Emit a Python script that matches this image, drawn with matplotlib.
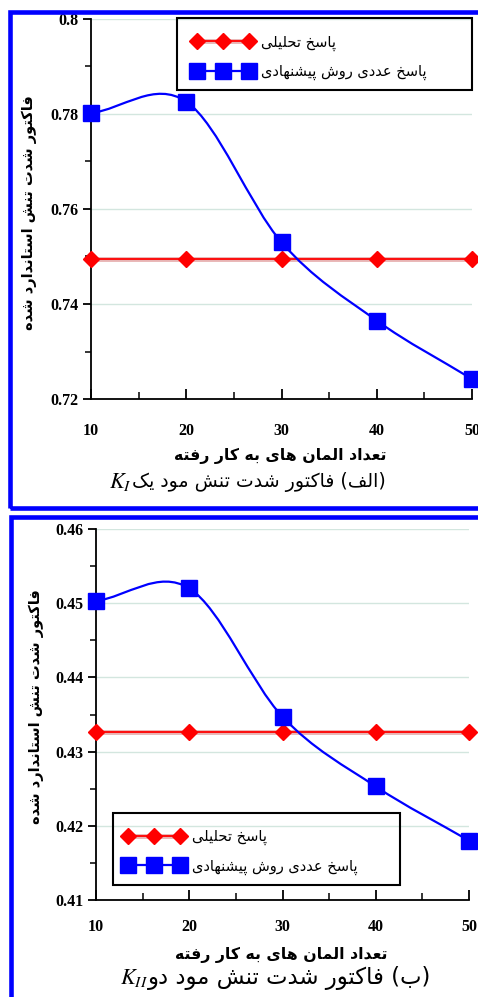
import matplotlib
matplotlib.use("Agg")
import matplotlib.pyplot as plt
import numpy as np
from matplotlib.path import Path
from matplotlib.patches import PathPatch, Rectangle
from matplotlib.lines import Line2D
from matplotlib.legend_handler import HandlerTuple

# data
elements = [10, 20, 30, 40, 50]
k1_exact = [0.7495, 0.7495, 0.7495, 0.7495, 0.7495]
k1_numeric = [0.7802, 0.7826, 0.7530, 0.7365, 0.7242]
k2_exact = [0.4327, 0.4327, 0.4327, 0.4327, 0.4327]
k2_numeric = [0.4503, 0.4520, 0.4347, 0.4253, 0.4180]

label_exact = "پاسخ تحلیلی"
label_numeric = "پاسخ عددی روش پیشنهادی"
ylabel_txt = "فاکتور شدت تنش استاندارد شده"
xlabel_txt = "تعداد المان های به کار رفته"
caption1 = "(الف) فاکتور شدت تنش مود یک"
caption2 = "(ب) فاکتور شدت تنش مود دو"

# tiny persian shaper (no arabic_reshaper available)
FORMS = {
    'ا': ('\uFE8D', '\uFE8E'), 'د': ('\uFEA9', '\uFEAA'),
    'ر': ('\uFEAD', '\uFEAE'), 'و': ('\uFEED', '\uFEEE'),
    'ب': ('\uFE8F', '\uFE90', '\uFE91', '\uFE92'),
    'پ': ('\uFB56', '\uFB57', '\uFB58', '\uFB59'),
    'ت': ('\uFE95', '\uFE96', '\uFE97', '\uFE98'),
    'ح': ('\uFEA1', '\uFEA2', '\uFEA3', '\uFEA4'),
    'خ': ('\uFEA5', '\uFEA6', '\uFEA7', '\uFEA8'),
    'س': ('\uFEB1', '\uFEB2', '\uFEB3', '\uFEB4'),
    'ش': ('\uFEB5', '\uFEB6', '\uFEB7', '\uFEB8'),
    'ع': ('\uFEC9', '\uFECA', '\uFECB', '\uFECC'),
    'ف': ('\uFED1', '\uFED2', '\uFED3', '\uFED4'),
    'ک': ('\uFB8E', '\uFB8F', '\uFB90', '\uFB91'),
    'ل': ('\uFEDD', '\uFEDE', '\uFEDF', '\uFEE0'),
    'م': ('\uFEE1', '\uFEE2', '\uFEE3', '\uFEE4'),
    'ن': ('\uFEE5', '\uFEE6', '\uFEE7', '\uFEE8'),
    'ه': ('\uFEE9', '\uFEEA', '\uFEEB', '\uFEEC'),
    'ی': ('\uFBFC', '\uFBFD', '\uFBFE', '\uFBFF'),
}


def fa(s):
    out = []
    for i, c in enumerate(s):
        if c not in FORMS:
            out.append(c)
            continue
        f = FORMS[c]
        prev = s[i - 1] if i > 0 else ''
        nxt = s[i + 1] if i + 1 < len(s) else ''
        jp = prev in FORMS and len(FORMS[prev]) == 4
        jn = len(f) == 4 and nxt in FORMS
        if jp and jn:
            out.append(f[3])
        elif jp:
            out.append(f[1])
        elif jn:
            out.append(f[2])
        else:
            out.append(f[0])
    vis = ''.join(reversed(out))
    return vis.translate(str.maketrans('()', ')('))


def smooth_path(x, y):
    # catmull-rom curve through the points, as bezier segments
    x = np.asarray(x, float)
    y = np.asarray(y, float)
    n = len(x)
    d = np.zeros(n)
    d[0] = (y[1] - y[0]) / (x[1] - x[0])
    d[-1] = (y[-1] - y[-2]) / (x[-1] - x[-2])
    for i in range(1, n - 1):
        d[i] = (y[i + 1] - y[i - 1]) / (x[i + 1] - x[i - 1])
    verts = [(x[0], y[0])]
    codes = [Path.MOVETO]
    for i in range(n - 1):
        h = x[i + 1] - x[i]
        verts += [(x[i] + h / 3, y[i] + d[i] * h / 3),
                  (x[i + 1] - h / 3, y[i + 1] - d[i + 1] * h / 3),
                  (x[i + 1], y[i + 1])]
        codes += [Path.CURVE4] * 3
    return Path(verts, codes)


plt.rcParams['font.family'] = ['DejaVu Sans']
plt.rcParams['mathtext.fontset'] = 'stix'

W, H = 478, 997
fig = plt.figure(figsize=(W / 100, H / 100), dpi=100)


def fx(px):
    return px / W


def fy(py):
    return 1 - py / H


def panel(rect, exact, numeric, ylim, ymaj, yfmt, xpad):
    ax = fig.add_axes(rect)
    ax.set_xlim(10, 50)
    ax.set_ylim(*ylim)
    for sp in ['top', 'right']:
        ax.spines[sp].set_visible(False)
    for sp in ['left', 'bottom']:
        ax.spines[sp].set_linewidth(1.3)
    ax.set_xticks(elements)
    ax.set_xticks([15, 25, 35, 45], minor=True)
    yt = np.arange(ylim[0], ylim[1] + ymaj / 4, ymaj)
    ax.set_yticks(yt)
    ax.set_yticks(yt[:-1] + ymaj / 2, minor=True)
    ax.set_yticklabels([yfmt(v) for v in yt])
    ax.tick_params(axis='y', which='major', direction='out', length=6, width=1.3, pad=3)
    ax.tick_params(axis='y', which='minor', direction='out', length=4, width=1.1)
    ax.tick_params(axis='x', which='major', direction='in', length=7, width=1.3, pad=xpad)
    ax.tick_params(axis='x', which='minor', direction='in', length=5, width=1.1)
    for lab in ax.get_xticklabels() + ax.get_yticklabels():
        lab.set_fontfamily('Liberation Serif')
        lab.set_fontweight('bold')
        lab.set_fontsize(11.5)
    for v in yt[1:]:
        ax.axhline(v, color='#d3e6df', lw=1, zorder=0)

    band, = ax.plot(elements, exact, color='#e8b4b4', lw=3.5, zorder=2)
    red, = ax.plot(elements, exact, color='#ff0000', lw=1.3, marker='D', ms=8,
                   mec='#ff0000', mfc='#ff0000', zorder=3, clip_on=False)
    ax.add_patch(PathPatch(smooth_path(elements, numeric), fill=False,
                           ec='#0000ff', lw=1.6, zorder=4, clip_on=False))
    ax.plot(elements, numeric, ls='none', marker='s', ms=11,
            mfc='#0000ff', mec='#0000ff', zorder=5, clip_on=False)
    blue_h = Line2D([], [], color='#0000ff', lw=1.6, marker='s', ms=11)
    return ax, (band, red), blue_h


# top panel: K_I
ax1, h_exact, h_num = panel([fx(91), fy(399), fx(472) - fx(91), fy(19) - fy(399)],
                            k1_exact, k1_numeric, (0.72, 0.80), 0.02,
                            lambda v: "0.8" if abs(v - 0.8) < 1e-9 else f"{v:.2f}", 17)
ax1.set_ylabel(fa(ylabel_txt), fontsize=10.5, fontweight='bold')
ax1.yaxis.set_label_coords((37 - 91) / 381, 0.49)
ax1.add_patch(Rectangle(((177 - 91) / 381, (399 - 90) / 380), 295 / 381, 72 / 380,
                        transform=ax1.transAxes, fill=False, ec='black', lw=1.5,
                        clip_on=False, zorder=6))
ax1.legend([h_exact, h_num], [fa(label_exact), fa(label_numeric)],
           handler_map={tuple: HandlerTuple(ndivide=1)},
           loc='upper left', bbox_to_anchor=((177 - 91) / 381, 1.0), borderaxespad=0.65,
           frameon=False, numpoints=3, handlelength=4.2, fontsize=10.5,
           labelspacing=0.9, handletextpad=0.5)

# bottom panel: K_II
ax2, h_exact2, h_num2 = panel([fx(96), fy(900), fx(469) - fx(96), fy(529) - fy(900)],
                              k2_exact, k2_numeric, (0.41, 0.46), 0.01,
                              lambda v: f"{v:.2f}", 14)
ax2.set_ylabel(fa(ylabel_txt), fontsize=10.5, fontweight='bold')
ax2.yaxis.set_label_coords((44 - 96) / 373, 0.52)
ax2.add_patch(Rectangle(((113 - 96) / 373, (900 - 885) / 371), 287 / 373, 72 / 371,
                        transform=ax2.transAxes, fill=False, ec='black', lw=1.5,
                        clip_on=False, zorder=6))
ax2.legend([h_exact2, h_num2], [fa(label_exact), fa(label_numeric)],
           handler_map={tuple: HandlerTuple(ndivide=1)},
           loc='lower left', bbox_to_anchor=((113 - 96) / 373, (900 - 885) / 371),
           borderaxespad=0.3, frameon=False, numpoints=3, handlelength=4.2,
           fontsize=10.5, labelspacing=0.9, handletextpad=0.5)

# axis titles and captions
fig.text(fx(280), fy(456), fa(xlabel_txt), ha='center', va='center',
         fontsize=11.3, fontweight='bold')
fig.text(fx(132), fy(482), r"$K_I$", ha='right', va='center', fontsize=16)
fig.text(fx(132), fy(482), fa(caption1), ha='left', va='center', fontsize=13.6)

fig.text(fx(281), fy(955), fa(xlabel_txt), ha='center', va='center',
         fontsize=11.3, fontweight='bold')
fig.text(fx(148), fy(978), r"$K_{II}$", ha='right', va='center', fontsize=16)
fig.text(fx(148), fy(978), fa(caption2), ha='left', va='center', fontsize=16.4)

# blue panel frames
fig.add_artist(Rectangle((fx(10), fy(508)), fx(480), fy(12) - fy(508),
                         transform=fig.transFigure, fill=False, ec='#0000ff', lw=3.3))
fig.add_artist(Rectangle((fx(11), fy(1010)), fx(480), fy(517) - fy(1010),
                         transform=fig.transFigure, fill=False, ec='#0000ff', lw=3.3))

fig.savefig("out.png", dpi=100)
